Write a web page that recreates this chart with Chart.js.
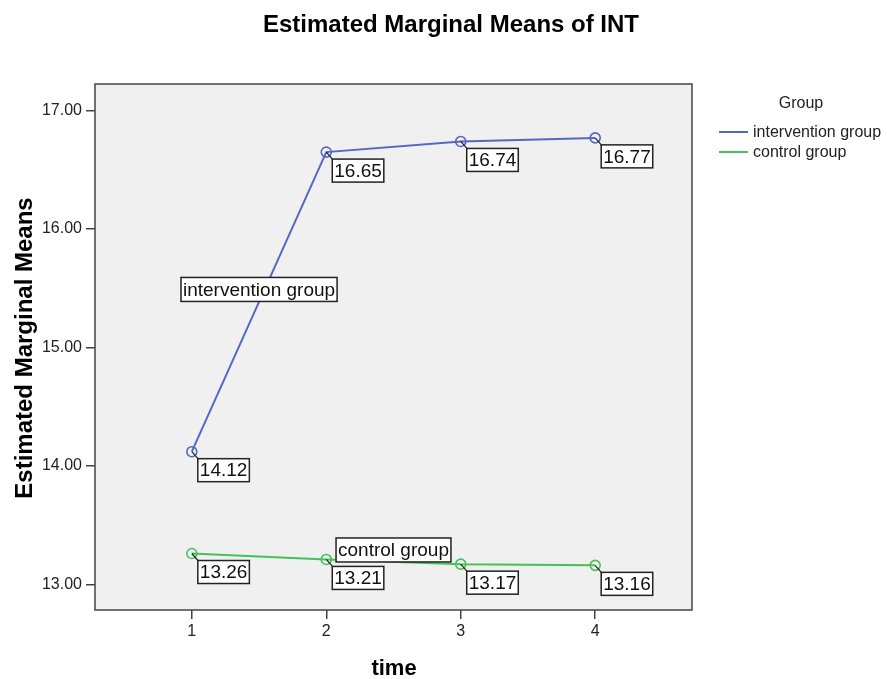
<!DOCTYPE html>
<html>
<head>
<meta charset="utf-8">
<script src="https://cdn.jsdelivr.net/npm/chart.js@4.4.1/dist/chart.umd.min.js"></script>
<style>
  html, body { margin: 0; padding: 0; background: #fff; }
</style>
</head>
<body>
<canvas id="chart" width="887" height="679"></canvas>
<script>
const times = [1, 2, 3, 4];
const interventionMeans = [14.12, 16.65, 16.74, 16.77];
const controlMeans = [13.26, 13.21, 13.17, 13.16];
const yTicks = [13, 14, 15, 16, 17];
const seriesNames = ['intervention group', 'control group'];
const seriesColors = ['#5467c3', '#45c257'];
// where each group name sits, in data units (time, mean)
const seriesNameAt = [[1.5, 15.49], [2.5, 13.29]];

const FONT = 'Arial, "Liberation Sans", sans-serif';

function boxedText(ctx, text, x, y, h) {
  const w = ctx.measureText(text).width + 4;
  ctx.fillStyle = '#fff';
  ctx.fillRect(x, y, w, h);
  ctx.strokeStyle = '#222';
  ctx.lineWidth = 1.5;
  ctx.strokeRect(x, y, w, h);
  ctx.fillStyle = '#111';
  ctx.textAlign = 'left';
  ctx.textBaseline = 'middle';
  ctx.fillText(text, x + 2, y + h / 2 + 1);
  return w;
}

const decor = {
  id: 'decor',
  beforeDraw(chart) {
    const { ctx, chartArea: a } = chart;
    ctx.save();
    ctx.fillStyle = '#fff';
    ctx.fillRect(0, 0, chart.width, chart.height);
    ctx.fillStyle = '#f0f0f0';
    ctx.fillRect(a.left, a.top, a.right - a.left, a.bottom - a.top);
    ctx.restore();
  },
  afterDatasetsDraw(chart) {
    const { ctx, chartArea: a, scales } = chart;
    ctx.save();
    // plot frame
    ctx.strokeStyle = '#444';
    ctx.lineWidth = 1.5;
    ctx.strokeRect(a.left, a.top, a.right - a.left, a.bottom - a.top);

    // value labels with leader ticks
    ctx.font = '19px ' + FONT;
    chart.data.datasets.forEach((ds, di) => {
      chart.getDatasetMeta(di).data.forEach((pt, i) => {
        const bx = pt.x + 6, by = pt.y + 7;
        ctx.strokeStyle = '#222';
        ctx.lineWidth = 1.2;
        ctx.beginPath();
        ctx.moveTo(pt.x, pt.y);
        ctx.lineTo(bx + 1, by + 1);
        ctx.stroke();
        boxedText(ctx, ds.data[i].y.toFixed(2), bx, by, 23);
      });
    });

    // group names inside the plot
    seriesNames.forEach((name, i) => {
      const cx = scales.x.getPixelForValue(seriesNameAt[i][0]);
      const cy = scales.y.getPixelForValue(seriesNameAt[i][1]);
      const w = ctx.measureText(name).width + 4;
      boxedText(ctx, name, cx - w / 2, cy - 12, 24);
    });
    ctx.restore();
  },
  afterDraw(chart) {
    const { ctx } = chart;
    ctx.save();
    ctx.fillStyle = '#000';

    // chart title
    ctx.font = 'bold 24px ' + FONT;
    ctx.textAlign = 'center';
    ctx.textBaseline = 'alphabetic';
    ctx.fillText('Estimated Marginal Means of INT', 451, 32);

    // x axis title
    ctx.font = 'bold 22px ' + FONT;
    ctx.fillText('time', 394, 675);

    // y axis title
    ctx.save();
    ctx.translate(32, 348);
    ctx.rotate(-Math.PI / 2);
    ctx.font = 'bold 24px ' + FONT;
    ctx.fillText('Estimated Marginal Means', 0, 0);
    ctx.restore();

    // legend
    ctx.font = '16px ' + FONT;
    ctx.fillStyle = '#222';
    ctx.textAlign = 'center';
    ctx.textBaseline = 'middle';
    ctx.fillText('Group', 801, 104);
    ctx.textAlign = 'left';
    chart.data.datasets.forEach((ds, i) => {
      const y = 132 + i * 20;
      ctx.strokeStyle = ds.borderColor;
      ctx.lineWidth = 2;
      ctx.beginPath();
      ctx.moveTo(719, y);
      ctx.lineTo(748, y);
      ctx.stroke();
      ctx.fillText(ds.label, 753, y + 1);
    });
    ctx.restore();
  }
};

const makeSeries = (name, values, color) => ({
  label: name,
  data: times.map((t, i) => ({ x: t, y: values[i] })),
  borderColor: color,
  borderWidth: 2,
  pointRadius: 5,
  pointBorderWidth: 1.6,
  pointBorderColor: color,
  pointBackgroundColor: 'rgba(0,0,0,0)',
  tension: 0
});

new Chart(document.getElementById('chart'), {
  type: 'line',
  data: {
    datasets: [
      makeSeries(seriesNames[0], interventionMeans, seriesColors[0]),
      makeSeries(seriesNames[1], controlMeans, seriesColors[1])
    ]
  },
  options: {
    responsive: false,
    animation: false,
    layout: { padding: { top: 84, right: 195, left: 0, bottom: 0 } },
    plugins: { legend: { display: false }, tooltip: { enabled: false } },
    scales: {
      x: {
        type: 'linear',
        min: 0.28,
        max: 4.72,
        afterBuildTicks: s => { s.ticks = times.map(v => ({ value: v })); },
        afterFit: s => { s.height = 69; },
        grid: { drawOnChartArea: false, drawTicks: true, tickLength: 9, color: '#444', lineWidth: 1.5 },
        border: { display: false },
        ticks: { font: { family: FONT, size: 16 }, color: '#222', padding: 3, callback: v => String(v) }
      },
      y: {
        min: 12.783,
        max: 17.225,
        afterBuildTicks: s => { s.ticks = yTicks.map(v => ({ value: v })); },
        afterFit: s => { s.width = 95; },
        grid: { drawOnChartArea: false, drawTicks: true, tickLength: 9, color: '#444', lineWidth: 1.5 },
        border: { display: false },
        ticks: { font: { family: FONT, size: 16 }, color: '#222', padding: 4, callback: v => v.toFixed(2) }
      }
    }
  },
  plugins: [decor]
});
</script>
</body>
</html>
